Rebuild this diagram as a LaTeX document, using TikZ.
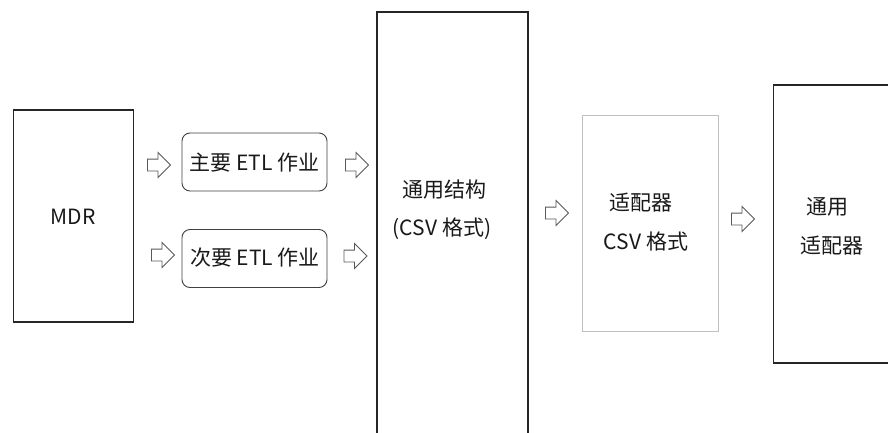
\documentclass[tikz,border=0pt]{standalone}
\usepackage{fontspec}
\setmainfont{Noto Sans CJK SC}
\usetikzlibrary{shapes.arrows}
\tikzset{
  box/.style={draw=black!85, line width=1.1pt, fill=white, inner sep=0pt},
  lightbox/.style={draw=black!25, line width=1pt, fill=white, inner sep=0pt},
  etlbox/.style={draw=black!75, line width=0.9pt, rounded corners=8pt, inner sep=0pt,
    minimum width=145pt, minimum height=58pt},
  txt/.style={inner sep=0pt, font=\fontsize{21}{24}\selectfont, text=black!90},
  hollow/.style={single arrow, draw=black!65, line width=0.9pt, fill=white,
    minimum height=23pt, minimum width=24pt, inner sep=5.5pt,
    single arrow head extend=6.5pt, shape border rotate=0}
}
\begin{document}
\begin{tikzpicture}[x=1pt,y=-1pt]
\clip (0,0) rectangle (888,433);
\fill[white] (0,0) rectangle (888,433);
% boxes
\node[box, minimum width=120pt, minimum height=212pt] (mdr) at (73.5,216) {};
\node[txt] (mdrt) at (73,217) {MDR};
\node[etlbox] (etl1) at (254.5,162) {};
\node[txt] (etl1t) at (254.5,163) {主要 ETL 作业};
\node[etlbox] (etl2) at (254.5,258.5) {};
\node[txt] (etl2t) at (255,258) {次要 ETL 作业};
\node[box, minimum width=151pt, minimum height=440pt] (gen) at (452.5,232) {};
\node[txt] (gen1) at (444,190) {通用结构};
\node[txt] (gen2) at (442,229) {(CSV 格式)};
\node[lightbox, minimum width=136pt, minimum height=215pt] (adp) at (650,223.5) {};
\node[txt] (adp1) at (641,203) {适配器};
\node[txt] (adp2) at (646,242) {CSV 格式};
\node[box, minimum width=140pt, minimum height=278pt] (gad) at (843.5,224) {};
\node[txt] (gad1) at (827,207) {通用};
\node[txt] (gad2) at (832,246) {适配器};
% hollow arrows
\node[hollow] (a1) at (156,165) {};
\node[hollow] (a2) at (354,165) {};
\node[hollow] (a3) at (160,255) {};
\node[hollow] (a4) at (352.5,256) {};
\node[hollow] (a5) at (554,213) {};
\node[hollow] (a6) at (740,219) {};
\end{tikzpicture}
\end{document}
